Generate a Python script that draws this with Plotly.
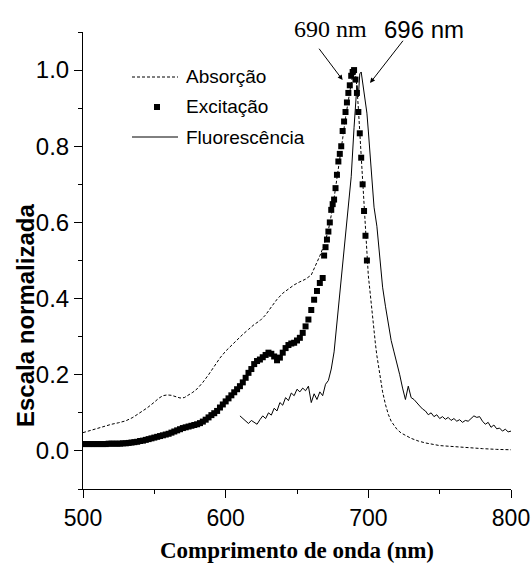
import plotly.graph_objects as go

# Absorção (linha tracejada)
abs_wl = [500, 505, 510, 515, 520, 525, 530, 535, 540, 545, 550, 553, 556, 559, 562, 565, 568,
          571, 574, 577, 580, 584, 588, 592, 596, 600, 604, 608, 612, 616, 620, 624, 628, 632,
          636, 640, 644, 648, 652, 656, 660, 663, 666, 669, 672, 675, 678, 680, 682, 684, 686,
          688, 689, 690, 691, 692, 693, 694, 695, 696, 697, 698, 699, 700, 701, 702, 703, 704,
          705, 706, 707, 708, 710, 712, 714, 716, 718, 720, 723, 726, 730, 735, 740, 750, 760,
          770, 780, 790, 800]
abs_val = [0.048, 0.054, 0.060, 0.065, 0.070, 0.074, 0.079, 0.088, 0.100, 0.113, 0.128, 0.138,
           0.145, 0.147, 0.146, 0.142, 0.139, 0.140, 0.146, 0.154, 0.163, 0.180, 0.200, 0.222,
           0.244, 0.262, 0.277, 0.292, 0.306, 0.319, 0.332, 0.342, 0.357, 0.378, 0.398, 0.414,
           0.426, 0.436, 0.444, 0.451, 0.462, 0.486, 0.512, 0.541, 0.580, 0.638, 0.712, 0.765,
           0.820, 0.875, 0.925, 0.965, 0.985, 0.998, 0.990, 0.955, 0.900, 0.840, 0.775, 0.710,
           0.640, 0.570, 0.510, 0.460, 0.425, 0.385, 0.350, 0.310, 0.280, 0.250, 0.223, 0.198,
           0.155, 0.122, 0.096, 0.078, 0.066, 0.057, 0.047, 0.040, 0.033, 0.026, 0.021, 0.014,
           0.011, 0.009, 0.006, 0.004, 0.003]

# Excitação (quadrados)
exc_wl = [500, 502, 504, 506, 508, 510, 512, 514, 516, 518, 520, 522, 524, 526, 528, 530, 532,
          534, 536, 538, 540, 542, 544, 546, 548, 550, 552, 554, 556, 558, 560, 562, 564, 566,
          568, 570, 572, 574, 576, 578, 580, 582, 584, 586, 588, 590, 592, 594, 596, 598, 600,
          602, 604, 606, 608, 610, 612, 614, 616, 618, 620, 622, 624, 626, 628, 630, 632, 634,
          636, 638, 640, 642, 644, 646, 648, 650, 652, 654, 656, 658, 660, 662, 664, 666, 668,
          669, 670, 671, 672, 673, 674, 675, 676, 677, 678, 679, 680, 681, 682, 683, 684, 685,
          686, 687, 688, 689, 690, 691, 692, 693, 694, 695, 696, 697, 698, 699]
exc_val = [0.018, 0.018, 0.018, 0.018, 0.018, 0.018, 0.018, 0.018, 0.018, 0.019, 0.019, 0.019,
           0.019, 0.019, 0.020, 0.020, 0.021, 0.022, 0.023, 0.024, 0.026, 0.027, 0.029, 0.031,
           0.033, 0.035, 0.037, 0.039, 0.041, 0.043, 0.045, 0.048, 0.051, 0.054, 0.057, 0.060,
           0.062, 0.064, 0.066, 0.068, 0.070, 0.073, 0.077, 0.082, 0.088, 0.094, 0.099, 0.105,
           0.114, 0.122, 0.130, 0.138, 0.146, 0.154, 0.162, 0.170, 0.180, 0.192, 0.205, 0.215,
           0.228, 0.236, 0.240, 0.246, 0.252, 0.258, 0.255, 0.248, 0.238, 0.245, 0.258, 0.270,
           0.278, 0.282, 0.284, 0.290, 0.297, 0.310, 0.327, 0.345, 0.370, 0.397, 0.420, 0.441,
           0.454, 0.513, 0.535, 0.555, 0.576, 0.600, 0.633, 0.648, 0.660, 0.690, 0.725, 0.760,
           0.780, 0.800, 0.840, 0.865, 0.890, 0.915, 0.940, 0.960, 0.985, 0.995, 1.000, 0.975,
           0.940, 0.890, 0.834, 0.770, 0.700, 0.630, 0.565, 0.500]

# Fluorescência (linha contínua)
flu_wl = [610, 612, 614, 616, 618, 620, 622, 624, 626, 628, 630, 632, 634, 636, 638, 640, 642,
          644, 646, 648, 650, 652, 654, 656, 658, 660, 662, 664, 666, 668, 670, 672, 674, 676,
          678, 680, 682, 684, 686, 688, 690, 691, 692, 693, 694, 695, 696, 697, 698, 699, 700,
          701, 702, 704, 706, 708, 710, 712, 714, 716, 718, 720, 722, 724, 726, 728, 730, 732,
          734, 736, 738, 740, 742, 744, 746, 748, 750, 752, 754, 756, 758, 760, 762, 764, 766,
          768, 770, 772, 774, 776, 778, 780, 782, 784, 786, 788, 790, 792, 794, 796, 798, 800]
flu_val = [0.092, 0.085, 0.078, 0.072, 0.080, 0.074, 0.070, 0.082, 0.092, 0.085, 0.100, 0.094,
           0.112, 0.105, 0.127, 0.120, 0.140, 0.132, 0.152, 0.145, 0.162, 0.155, 0.165, 0.158,
           0.170, 0.127, 0.150, 0.135, 0.155, 0.145, 0.175, 0.185, 0.215, 0.260, 0.336, 0.420,
           0.494, 0.560, 0.630, 0.720, 0.850, 0.900, 0.960, 0.930, 0.990, 0.995, 0.970, 0.950,
           0.920, 0.887, 0.840, 0.790, 0.730, 0.640, 0.590, 0.500, 0.430, 0.380, 0.330, 0.290,
           0.260, 0.232, 0.200, 0.165, 0.135, 0.170, 0.140, 0.135, 0.125, 0.118, 0.110, 0.105,
           0.095, 0.100, 0.090, 0.095, 0.085, 0.090, 0.083, 0.088, 0.080, 0.085, 0.078, 0.082,
           0.075, 0.080, 0.078, 0.085, 0.092, 0.088, 0.090, 0.078, 0.070, 0.075, 0.062, 0.068,
           0.058, 0.060, 0.052, 0.057, 0.050, 0.052]

legend_labels = ["Absorção", "Excitação", "Fluorescência"]

SANS = "Liberation Sans"
SERIF = "Liberation Serif"

fig = go.Figure()

fig.add_trace(go.Scatter(x=abs_wl, y=abs_val, mode='lines', name=legend_labels[0],
                         line=dict(color='black', width=1, dash='3px,2px')))
fig.add_trace(go.Scatter(x=exc_wl, y=exc_val, mode='markers', name=legend_labels[1],
                         marker=dict(color='black', size=6, symbol='square', line=dict(width=0))))
fig.add_trace(go.Scatter(x=flu_wl, y=flu_val, mode='lines', name=legend_labels[2],
                         line=dict(color='black', width=1)))

# legenda desenhada à mão (posições em px convertidas para "paper")
def px(xp):
    return (xp - 83) / 428.0

def py(yp):
    return (489 - yp) / 457.0

rows = [77, 107, 137]
fig.add_shape(type='line', xref='paper', yref='paper', x0=px(132), x1=px(178),
              y0=py(rows[0]), y1=py(rows[0]), line=dict(color='black', width=1, dash='3px,2px'))
fig.add_shape(type='rect', xref='paper', yref='paper', xsizemode='pixel', ysizemode='pixel',
              xanchor=px(157), yanchor=py(rows[1]), x0=-3, x1=3, y0=-3, y1=3,
              fillcolor='black', line=dict(width=0))
fig.add_shape(type='line', xref='paper', yref='paper', x0=px(132), x1=px(178),
              y0=py(rows[2]), y1=py(rows[2]), line=dict(color='black', width=1))
for lab, r in zip(legend_labels, rows):
    fig.add_annotation(text=lab, xref='paper', yref='paper', x=px(184), y=py(r),
                       xanchor='left', yanchor='middle', showarrow=False,
                       font=dict(family=SANS, size=19, color='black'))

# picos
fig.add_annotation(text="690 nm", xref='paper', yref='paper', x=px(330), y=py(29),
                   xanchor='center', yanchor='middle', showarrow=False,
                   font=dict(family=SERIF, size=24, color='black'))
fig.add_annotation(text="696 nm", xref='paper', yref='paper', x=px(424), y=py(29),
                   xanchor='center', yanchor='middle', showarrow=False,
                   font=dict(family=SANS, size=24, color='black'))
fig.add_annotation(text="", x=682, y=0.974, ax=664.7, ay=1.060, axref='x', ayref='y',
                   showarrow=True, arrowhead=2, arrowsize=1, arrowwidth=1, arrowcolor='black')
fig.add_annotation(text="", x=701.2, y=0.966, ax=725.1, ay=1.081, axref='x', ayref='y',
                   showarrow=True, arrowhead=2, arrowsize=1, arrowwidth=1, arrowcolor='black')

# título do eixo y (deslocado para baixo como no original)
fig.add_annotation(text="<b>Escala normalizada</b>", xref='paper', yref='paper',
                   x=px(25), y=py(316), textangle=-90, xanchor='center', yanchor='middle',
                   showarrow=False, font=dict(family=SANS, size=24, color='black'))

fig.update_xaxes(range=[500, 800], dtick=100, tick0=500, ticks='outside', ticklen=8,
                 tickwidth=1, tickcolor='black', showline=True, linecolor='black', linewidth=1,
                 showgrid=False, zeroline=False, automargin=False, ticklabeloverflow='allow',
                 minor=dict(dtick=50, ticks='outside', ticklen=4, tickcolor='black'),
                 tickfont=dict(family=SANS, size=23, color='black'),
                 title=dict(text="<b>Comprimento de onda (nm)</b>", standoff=12,
                            font=dict(family=SERIF, size=23, color='black')))
fig.update_yaxes(range=[-0.1, 1.1], dtick=0.2, tick0=0, tickformat='.1f', ticks='outside',
                 ticklen=8, tickwidth=1, tickcolor='black', showline=True, linecolor='black',
                 linewidth=1, showgrid=False, zeroline=False, automargin=False,
                 minor=dict(dtick=0.1, ticks='outside', ticklen=4, tickcolor='black'),
                 tickfont=dict(family=SANS, size=24, color='black'))

fig.update_layout(width=531, height=567, margin=dict(l=83, r=20, t=32, b=78),
                  plot_bgcolor='white', paper_bgcolor='white', showlegend=False)

fig.write_html("out.html", config={'displayModeBar': False},
               post_script="document.body.style.margin='0';")
